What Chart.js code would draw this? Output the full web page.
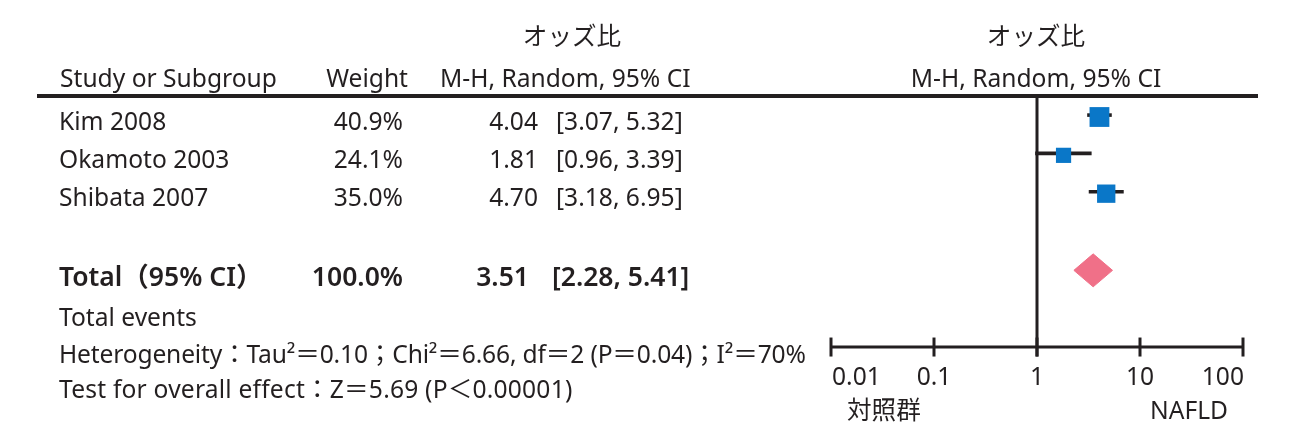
<!DOCTYPE html>
<html>
<head>
<meta charset="utf-8">
<script src="https://cdn.jsdelivr.net/npm/chart.js@4.4.1/dist/chart.umd.min.js"></script>
<style>
  html, body { margin: 0; padding: 0; background: #ffffff; }
  #wrap { position: relative; width: 1301px; height: 443px; overflow: hidden; background: #fff; }
  #c { position: absolute; left: 0; top: 0; }
  .t { position: absolute; white-space: pre; font-family: "Noto Sans", "Noto Sans CJK JP", sans-serif;
       line-height: 1; color: #231f20; }
  .rule { position: absolute; background: #231f20; }
</style>
</head>
<body>
<div id="wrap">
  <canvas id="c" width="1301" height="443"></canvas>
  <div class="rule" style="left:37px; top:94px; width:1221px; height:4px;"></div>
</div>
<script>
// ---------- data ----------
const studies    = ['Kim 2008', 'Okamoto 2003', 'Shibata 2007'];
const weights    = [40.9, 24.1, 35.0];
const oddsRatios = [4.04, 1.81, 4.70];
const ciLower    = [3.07, 0.96, 3.18];
const ciUpper    = [5.32, 3.39, 6.95];
const totalWeight = [100.0];
const totalOR     = [3.51];
const totalLower  = [2.28];
const totalUpper  = [5.41];
const tickValues = [0.01, 0.1, 1, 10, 100];
const tickLabels = ['0.01', '0.1', '1', '10', '100'];
const headerTitle = 'オッズ比';
const headerMethod = 'M-H, Random, 95% CI';
const axisLeftLabel = '対照群';
const axisRightLabel = 'NAFLD';
const heterogeneityText = 'Heterogeneity：Tau²＝0.10；Chi²＝6.66, df＝2 (P＝0.04)；I²＝70%';
const overallText = 'Test for overall effect：Z＝5.69 (P＜0.00001)';

// ---------- layout / style ----------
const INK = '#231f20';
const BLUE = '#0a77c8';
const PINK = '#f07088';
const TOTAL_ROW = 4;
const AXIS_ROW = 6;
const FS = 24.6;      // body font size
const FS_TOTAL = 26.5; // total row font size

const wrap = document.getElementById('wrap');
function place(text, x, baseline, align, opts) {
  opts = opts || {};
  const fs = opts.fs || FS;
  const el = document.createElement('div');
  el.className = 't';
  el.textContent = text;
  el.style.fontSize = fs + 'px';
  if (opts.weight) el.style.fontWeight = opts.weight;
  if (opts.ls) el.style.letterSpacing = opts.ls + 'px';
  el.style.top = (baseline - 0.888 * fs) + 'px';
  if (align === 'right') {
    el.style.right = (1301 - x) + 'px';
  } else if (align === 'center') {
    el.style.left = x + 'px';
    el.style.transform = 'translateX(-50%)';
  } else {
    el.style.left = x + 'px';
  }
  wrap.appendChild(el);
}

// headers
place(headerTitle, 572, 46, 'center');
place(headerTitle, 1036, 46, 'center');
place('Study or Subgroup', 60, 88, 'left');
place('Weight', 408, 88, 'right');
place(headerMethod, 440, 88, 'left');
place(headerMethod, 1036, 88, 'center');

// study rows
const rowBase = [131, 168.7, 206.4];
studies.forEach((s, i) => {
  const yb = rowBase[i];
  place(s, 59, yb, 'left');
  place(weights[i].toFixed(1) + '%', 403, yb, 'right');
  place(oddsRatios[i].toFixed(2), 538, yb, 'right');
  place('[' + ciLower[i].toFixed(2) + ', ' + ciUpper[i].toFixed(2) + ']', 556, yb, 'left');
});

// total row
const tot = { fs: FS_TOTAL, weight: 600 };
place('Total（95% CI）', 59, 287, 'left', tot);
place(totalWeight[0].toFixed(1) + '%', 403, 287, 'right', tot);
place(totalOR[0].toFixed(2), 529, 287, 'right', tot);
place('[' + totalLower[0].toFixed(2) + ', ' + totalUpper[0].toFixed(2) + ']', 552, 287, 'left', tot);

place('Total events', 59, 327, 'left');
place(heterogeneityText, 59, 364, 'left', { ls: -0.16 });
place(overallText, 59, 399, 'left', { ls: 0.2 });

place(axisLeftLabel, 847, 420, 'left');
place(axisRightLabel, 1228, 420, 'right');

// ---------- chart ----------
const datasets = [];
// squares (drawn on top)
datasets.push({
  data: oddsRatios.map((v, i) => ({ x: v, y: i })),
  pointStyle: 'rect',
  pointRadius: weights.map(w => 2.19 * Math.sqrt(w)),
  pointBackgroundColor: BLUE,
  pointBorderColor: BLUE,
  pointBorderWidth: 0,
  showLine: false
});
// CI lines
studies.forEach((s, i) => {
  datasets.push({
    data: [{ x: ciLower[i], y: i - 0.05 }, { x: ciUpper[i], y: i - 0.05 }],
    showLine: true, borderColor: INK, borderWidth: 3.6, pointRadius: 0, borderCapStyle: 'butt'
  });
});
// diamond
const dh = 0.43;
datasets.push({
  data: [
    { x: totalLower[0], y: TOTAL_ROW },
    { x: totalOR[0], y: TOTAL_ROW - dh },
    { x: totalUpper[0], y: TOTAL_ROW },
    { x: totalOR[0], y: TOTAL_ROW + dh },
    { x: totalLower[0], y: TOTAL_ROW }
  ],
  showLine: true, fill: 'shape', backgroundColor: PINK, borderColor: PINK, borderWidth: 1, pointRadius: 0
});
// vertical no-effect line
datasets.push({
  data: [{ x: 1, y: -0.55 }, { x: 1, y: AXIS_ROW + 0.25 }],
  showLine: true, borderColor: INK, borderWidth: 3, pointRadius: 0, borderCapStyle: 'butt'
});
// axis line
datasets.push({
  data: [{ x: tickValues[0], y: AXIS_ROW }, { x: tickValues[tickValues.length - 1], y: AXIS_ROW }],
  showLine: true, borderColor: INK, borderWidth: 3, pointRadius: 0, borderCapStyle: 'butt'
});
// tick marks
datasets.push({
  data: tickValues.map(v => ({ x: v, y: AXIS_ROW })),
  showLine: false, pointStyle: 'line', pointRotation: 90, pointRadius: 9.5,
  pointBorderColor: INK, pointBorderWidth: 3, pointBackgroundColor: INK
});

const tickLabelPlugin = {
  id: 'tickLabels',
  afterDatasetsDraw(chart) {
    const { ctx, scales } = chart;
    const xs = scales.x, ys = scales.y;
    ctx.save();
    ctx.font = FS + 'px "Noto Sans"';
    ctx.fillStyle = INK;
    ctx.textBaseline = 'alphabetic';
    const yb = ys.getPixelForValue(AXIS_ROW) + 38;
    tickValues.forEach((v, i) => {
      const px = xs.getPixelForValue(v);
      ctx.textAlign = i === 0 ? 'left' : (i === tickValues.length - 1 ? 'right' : 'center');
      ctx.fillText(tickLabels[i], px + (i === 0 ? 1 : (i === tickValues.length - 1 ? 1 : 0)), yb);
    });
    ctx.restore();
  }
};

new Chart(document.getElementById('c'), {
  type: 'scatter',
  data: { datasets: datasets.map(d => Object.assign({ clip: false }, d)) },
  options: {
    responsive: false,
    animation: false,
    events: [],
    layout: { padding: { left: 831, right: 58, top: 94, bottom: 76.8 } },
    scales: {
      x: { type: 'logarithmic', min: 0.01, max: 100, display: false },
      y: { type: 'linear', min: -0.6, max: 6.5, reverse: true, display: false }
    },
    plugins: { legend: { display: false }, tooltip: { enabled: false } }
  },
  plugins: [tickLabelPlugin]
});
</script>
</body>
</html>
